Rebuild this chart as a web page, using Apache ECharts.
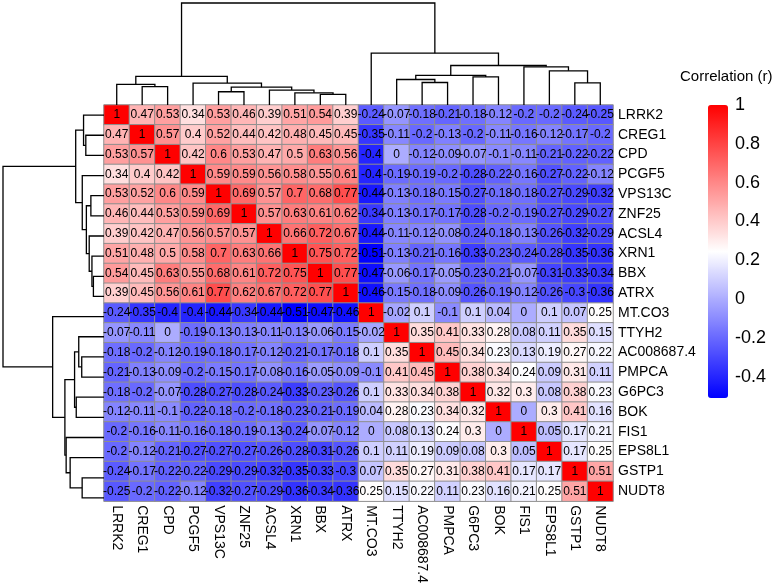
<!DOCTYPE html>
<html>
<head>
<meta charset="utf-8">
<title>Correlation heatmap</title>
<script src="https://cdn.jsdelivr.net/npm/echarts@6/dist/echarts.min.js"></script>
<style>
html, body { margin: 0; padding: 0; background: #fff; }
#chart { width: 774px; height: 586px; }
</style>
</head>
<body>
<div id="chart"></div>
<script>
var genes = ["LRRK2", "CREG1", "CPD", "PCGF5", "VPS13C", "ZNF25", "ACSL4", "XRN1", "BBX", "ATRX",
             "MT.CO3", "TTYH2", "AC008687.4", "PMPCA", "G6PC3", "BOK", "FIS1", "EPS8L1", "GSTP1", "NUDT8"];

var corr = [
  [1, 0.47, 0.53, 0.34, 0.53, 0.46, 0.39, 0.51, 0.54, 0.39, -0.24, -0.07, -0.18, -0.21, -0.18, -0.12, -0.2, -0.2, -0.24, -0.25],
  [0.47, 1, 0.57, 0.4, 0.52, 0.44, 0.42, 0.48, 0.45, 0.45, -0.35, -0.11, -0.2, -0.13, -0.2, -0.11, -0.16, -0.12, -0.17, -0.2],
  [0.53, 0.57, 1, 0.42, 0.6, 0.53, 0.47, 0.5, 0.63, 0.56, -0.4, 0, -0.12, -0.09, -0.07, -0.1, -0.11, -0.21, -0.22, -0.22],
  [0.34, 0.4, 0.42, 1, 0.59, 0.59, 0.56, 0.58, 0.55, 0.61, -0.4, -0.19, -0.19, -0.2, -0.28, -0.22, -0.16, -0.27, -0.22, -0.12],
  [0.53, 0.52, 0.6, 0.59, 1, 0.69, 0.57, 0.7, 0.68, 0.77, -0.44, -0.13, -0.18, -0.15, -0.27, -0.18, -0.18, -0.27, -0.29, -0.32],
  [0.46, 0.44, 0.53, 0.59, 0.69, 1, 0.57, 0.63, 0.61, 0.62, -0.34, -0.13, -0.17, -0.17, -0.28, -0.2, -0.19, -0.27, -0.29, -0.27],
  [0.39, 0.42, 0.47, 0.56, 0.57, 0.57, 1, 0.66, 0.72, 0.67, -0.44, -0.11, -0.12, -0.08, -0.24, -0.18, -0.13, -0.26, -0.32, -0.29],
  [0.51, 0.48, 0.5, 0.58, 0.7, 0.63, 0.66, 1, 0.75, 0.72, -0.51, -0.13, -0.21, -0.16, -0.33, -0.23, -0.24, -0.28, -0.35, -0.36],
  [0.54, 0.45, 0.63, 0.55, 0.68, 0.61, 0.72, 0.75, 1, 0.77, -0.47, -0.06, -0.17, -0.05, -0.23, -0.21, -0.07, -0.31, -0.33, -0.34],
  [0.39, 0.45, 0.56, 0.61, 0.77, 0.62, 0.67, 0.72, 0.77, 1, -0.46, -0.15, -0.18, -0.09, -0.26, -0.19, -0.12, -0.26, -0.3, -0.36],
  [-0.24, -0.35, -0.4, -0.4, -0.44, -0.34, -0.44, -0.51, -0.47, -0.46, 1, -0.02, 0.1, -0.1, 0.1, 0.04, 0, 0.1, 0.07, 0.25],
  [-0.07, -0.11, 0, -0.19, -0.13, -0.13, -0.11, -0.13, -0.06, -0.15, -0.02, 1, 0.35, 0.41, 0.33, 0.28, 0.08, 0.11, 0.35, 0.15],
  [-0.18, -0.2, -0.12, -0.19, -0.18, -0.17, -0.12, -0.21, -0.17, -0.18, 0.1, 0.35, 1, 0.45, 0.34, 0.23, 0.13, 0.19, 0.27, 0.22],
  [-0.21, -0.13, -0.09, -0.2, -0.15, -0.17, -0.08, -0.16, -0.05, -0.09, -0.1, 0.41, 0.45, 1, 0.38, 0.34, 0.24, 0.09, 0.31, 0.11],
  [-0.18, -0.2, -0.07, -0.28, -0.27, -0.28, -0.24, -0.33, -0.23, -0.26, 0.1, 0.33, 0.34, 0.38, 1, 0.32, 0.3, 0.08, 0.38, 0.23],
  [-0.12, -0.11, -0.1, -0.22, -0.18, -0.2, -0.18, -0.23, -0.21, -0.19, 0.04, 0.28, 0.23, 0.34, 0.32, 1, 0, 0.3, 0.41, 0.16],
  [-0.2, -0.16, -0.11, -0.16, -0.18, -0.19, -0.13, -0.24, -0.07, -0.12, 0, 0.08, 0.13, 0.24, 0.3, 0, 1, 0.05, 0.17, 0.21],
  [-0.2, -0.12, -0.21, -0.27, -0.27, -0.27, -0.26, -0.28, -0.31, -0.26, 0.1, 0.11, 0.19, 0.09, 0.08, 0.3, 0.05, 1, 0.17, 0.25],
  [-0.24, -0.17, -0.22, -0.22, -0.29, -0.29, -0.32, -0.35, -0.33, -0.3, 0.07, 0.35, 0.27, 0.31, 0.38, 0.41, 0.17, 0.17, 1, 0.51],
  [-0.25, -0.2, -0.22, -0.12, -0.32, -0.27, -0.29, -0.36, -0.34, -0.36, 0.25, 0.15, 0.22, 0.11, 0.23, 0.16, 0.21, 0.25, 0.51, 1]
];

// cluster tree (numbers = index in genes)
var tree = [
  [[0, [1, 2]], [3, [[4, 5], [6, [7, [8, 9]]]]]],
  [10, [[[11, [12, 13]], [14, 15]], [16, [17, [18, 19]]]]]
];

var legendTicks = [-0.4, -0.2, 0, 0.2, 0.4, 0.6, 0.8, 1];

var FONT = "'Liberation Sans', Arial, sans-serif";

// euclidean distance between two rows, complete linkage for merge heights
function dist(a, b) {
  var s = 0;
  for (var k = 0; k < corr[a].length; k++) {
    var d = corr[a][k] - corr[b][k];
    s += d * d;
  }
  return Math.sqrt(s);
}

var segs = [];
function build(node) {
  if (typeof node == "number") return { pos: node, h: 0, leaves: [node] };
  var l = build(node[0]), r = build(node[1]);
  var h = 0;
  l.leaves.forEach(function (i) {
    r.leaves.forEach(function (j) { h = Math.max(h, dist(i, j)); });
  });
  segs.push([l.pos, l.h, r.pos, r.h, h]);
  return { pos: (l.pos + r.pos) / 2, h: h, leaves: l.leaves.concat(r.leaves) };
}
var root = build(tree);

var cells = [], lo = 1, hi = -1;
for (var r = 0; r < genes.length; r++) {
  for (var c = 0; c < genes.length; c++) {
    cells.push([c, r, corr[r][c]]);
    lo = Math.min(lo, corr[r][c]);
    hi = Math.max(hi, corr[r][c]);
  }
}

function dendroItem(flip) {
  return function (params, api) {
    var p1 = api.value(0), h1 = api.value(1), p2 = api.value(2), h2 = api.value(3), h = api.value(4);
    var pts = [[p1, h1], [p1, h], [p2, h], [p2, h2]].map(function (p) {
      return api.coord(flip ? [p[1], p[0]] : p);
    });
    return { type: "polyline", shape: { points: pts }, style: { stroke: "#000", lineWidth: 1.3, fill: null } };
  };
}

var chart = echarts.init(document.getElementById("chart"));
chart.setOption({
  animation: false,
  textStyle: { fontFamily: FONT },
  grid: [
    { left: 104, top: 105, width: 509, height: 403 },
    { left: 3, top: 105, width: 101, height: 403 },
    { left: 104, top: 3, width: 509, height: 102 },
    { left: 708, top: 105, width: 20, height: 293 }
  ],
  xAxis: [
    { gridIndex: 0, type: "category", data: genes, position: "bottom",
      axisLine: { show: false }, axisTick: { show: false }, splitArea: { show: false },
      axisLabel: { rotate: -90, fontSize: 14, margin: 4, color: "#000", fontFamily: FONT } },
    { gridIndex: 1, type: "value", min: 0, max: root.h, inverse: true, show: false },
    { gridIndex: 2, type: "value", min: -0.5, max: genes.length - 0.5, show: false },
    { gridIndex: 3, type: "value", show: false }
  ],
  yAxis: [
    { gridIndex: 0, type: "category", data: genes, inverse: true, position: "right",
      axisLine: { show: false }, axisTick: { show: false }, splitArea: { show: false },
      axisLabel: { fontSize: 14, margin: 5, color: "#000", fontFamily: FONT } },
    { gridIndex: 1, type: "value", min: -0.5, max: genes.length - 0.5, inverse: true, show: false },
    { gridIndex: 2, type: "value", min: 0, max: root.h, show: false },
    { gridIndex: 3, type: "value", min: lo, max: hi, position: "right",
      splitLine: { show: false }, axisLine: { show: false }, axisTick: { show: false },
      axisLabel: { customValues: legendTicks, fontSize: 18, margin: 7, color: "#000", fontFamily: FONT } }
  ],
  visualMap: {
    type: "continuous", seriesIndex: 0, min: lo, max: hi,
    calculable: false, orient: "vertical", left: 708, top: 105,
    itemWidth: 20, itemHeight: 293, padding: 0, text: null,
    inRange: { color: ["#0000FF", "#FFFFFF", "#FF0000"] }
  },
  graphic: [
    { type: "text", left: 680, top: 69, style: { text: "Correlation (r)", fontSize: 15, fill: "#000", fontFamily: FONT } }
  ],
  series: [
    { type: "heatmap", xAxisIndex: 0, yAxisIndex: 0, data: cells,
      itemStyle: { borderColor: "#8f8f8f", borderWidth: 1 },
      label: { show: true, fontSize: 12, color: "#000", fontFamily: FONT,
        formatter: function (p) { return String(p.value[2]); } },
      emphasis: { disabled: true } },
    { type: "custom", xAxisIndex: 1, yAxisIndex: 1, data: segs, renderItem: dendroItem(true), silent: true },
    { type: "custom", xAxisIndex: 2, yAxisIndex: 2, data: segs, renderItem: dendroItem(false), silent: true },
    { type: "scatter", xAxisIndex: 3, yAxisIndex: 3, data: [], silent: true }
  ]
});
</script>
</body>
</html>
